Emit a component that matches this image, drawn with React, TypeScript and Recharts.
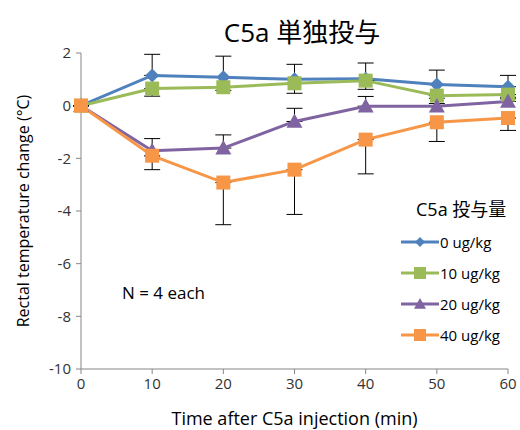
import * as React from "react";
import { LineChart, Line, XAxis, YAxis, ErrorBar } from "recharts";

const times = [0, 10, 20, 30, 40, 50, 60];
const dose0 = [0, 1.15, 1.08, 1.0, 1.02, 0.8, 0.72];
const err0 = [0, 0.8, 0.8, 0.57, 0.6, 0.55, 0.43];
const dose10 = [0, 0.65, 0.7, 0.85, 0.95, 0.38, 0.42];
const err10 = [0, 0.29, 0.12, 0.38, 0.33, 0.1, 0.1];
const dose20 = [0, -1.71, -1.61, -0.6, -0.02, -0.02, 0.16];
const err20 = [0, 0.46, 0.5, 0.5, 0.37, 0.1, 0.1];
const dose40 = [0, -1.9, -2.92, -2.43, -1.29, -0.63, -0.47];
const err40 = [0, 0.53, 1.6, 1.7, 1.3, 0.73, 0.47];

const xTicks = [0, 10, 20, 30, 40, 50, 60];
const yTicks = [-10, -8, -6, -4, -2, 0, 2];

const seriesNames = ["0 ug/kg", "10 ug/kg", "20 ug/kg", "40 ug/kg"];
const colors = ["#4F81BD", "#9BBB59", "#8064A2", "#F79646"];
const shapes = ["diamond", "square", "triangle", "square"];

const FONT = "'Open Sans', 'Noto Sans CJK JP', sans-serif";

const data = times.map((t, i) => ({
  t,
  d0: dose0[i],
  e0: [0, err0[i]],
  d10: dose10[i],
  e10: [err10[i], 0],
  d20: dose20[i],
  e20: [0, err20[i]],
  d40: dose40[i],
  e40: [err40[i], 0],
}));

const Marker = ({ shape, color, cx, cy, s }: any) => {
  if (shape === "diamond") {
    return (
      <path
        d={`M${cx},${cy - s} L${cx + s},${cy} L${cx},${cy + s} L${cx - s},${cy} Z`}
        fill={color}
      />
    );
  }
  if (shape === "triangle") {
    return (
      <path
        d={`M${cx},${cy - s} L${cx + s},${cy + s * 0.8} L${cx - s},${cy + s * 0.8} Z`}
        fill={color}
      />
    );
  }
  return <rect x={cx - s} y={cy - s} width={s * 2} height={s * 2} fill={color} />;
};

const makeDot = (idx: number, s: number) => (props: any) => {
  const { cx, cy, index } = props;
  return (
    <Marker
      key={`dot-${idx}-${index}`}
      shape={shapes[idx]}
      color={colors[idx]}
      cx={cx}
      cy={cy}
      s={s}
    />
  );
};

const CustomLegend = () => (
  <div
    style={{
      position: "absolute",
      left: 401,
      top: 195,
      width: 119,
      fontFamily: FONT,
      color: "#000",
    }}
  >
    <div style={{ fontSize: 18, marginLeft: 15, lineHeight: "28px", marginBottom: 3, whiteSpace: "nowrap" }}>
      C5a 投与量
    </div>
    {seriesNames.map((name, i) => (
      <div key={name} style={{ display: "flex", alignItems: "center", height: 31 }}>
        <svg width={38} height={16} style={{ flex: "none" }}>
          <line x1={0} y1={8} x2={38} y2={8} stroke={colors[i]} strokeWidth={3} />
          <Marker shape={shapes[i]} color={colors[i]} cx={19} cy={8} s={i === 0 ? 5 : 6} />
        </svg>
        <span style={{ fontSize: 15, marginLeft: 1, whiteSpace: "nowrap" }}>{name}</span>
      </div>
    ))}
  </div>
);

const App = () => {
  return (
    <div style={{ position: "absolute", left: 0, top: 0, width: 520, height: 430, background: "#fff" }}>
      <div
        style={{
          position: "absolute",
          left: 0,
          width: 520,
          top: 12,
          textAlign: "center",
          fontFamily: FONT,
          fontSize: 26,
          paddingLeft: 84,
          boxSizing: "border-box",
        }}
      >
        C5a 単独投与
      </div>
      <div style={{ position: "absolute", left: 122, top: 281, fontFamily: FONT, fontSize: 17 }}>
        N = 4 each
      </div>
      <LineChart
        width={520}
        height={430}
        data={data}
        margin={{ top: 53, right: 12, bottom: 0, left: 21 }}
      >
        <XAxis
          dataKey="t"
          type="number"
          domain={[0, 60]}
          ticks={xTicks}
          stroke="#868686"
          tick={{ fill: "#333", fontSize: 15, fontFamily: FONT }}
          tickLine={{ stroke: "#868686" }}
          tickSize={5}
          tickMargin={4}
          label={{
            value: "Time after C5a injection (min)",
            position: "insideBottom",
            offset: 5,
            fill: "#000",
            fontSize: 18,
            fontFamily: FONT,
          }}
          height={61}
        />
        <YAxis
          type="number"
          domain={[-10, 2]}
          ticks={yTicks}
          stroke="#868686"
          tick={{ fill: "#333", fontSize: 15, fontFamily: FONT }}
          tickLine={{ stroke: "#868686" }}
          tickSize={5}
          tickMargin={5}
          width={60}
          label={{
            value: "Rectal temperature change (°C)",
            angle: -90,
            position: "insideLeft",
            offset: 2,
            style: { textAnchor: "middle" },
            fill: "#000",
            fontSize: 16,
            fontFamily: FONT,
          }}
        />
        <Line
          dataKey="d0"
          name={seriesNames[0]}
          stroke={colors[0]}
          strokeWidth={3}
          dot={makeDot(0, 7)}
          isAnimationActive={false}
        >
          <ErrorBar dataKey="e0" direction="y" width={8} stroke="#000" strokeWidth={1} />
        </Line>
        <Line
          dataKey="d10"
          name={seriesNames[1]}
          stroke={colors[1]}
          strokeWidth={3}
          dot={makeDot(1, 7)}
          isAnimationActive={false}
        >
          <ErrorBar dataKey="e10" direction="y" width={8} stroke="#000" strokeWidth={1} />
        </Line>
        <Line
          dataKey="d20"
          name={seriesNames[2]}
          stroke={colors[2]}
          strokeWidth={3}
          dot={makeDot(2, 8)}
          isAnimationActive={false}
        >
          <ErrorBar dataKey="e20" direction="y" width={8} stroke="#000" strokeWidth={1} />
        </Line>
        <Line
          dataKey="d40"
          name={seriesNames[3]}
          stroke={colors[3]}
          strokeWidth={3}
          dot={makeDot(3, 7)}
          isAnimationActive={false}
        >
          <ErrorBar dataKey="e40" direction="y" width={8} stroke="#000" strokeWidth={1} />
        </Line>
      </LineChart>
      <CustomLegend />
    </div>
  );
};

export default App;
